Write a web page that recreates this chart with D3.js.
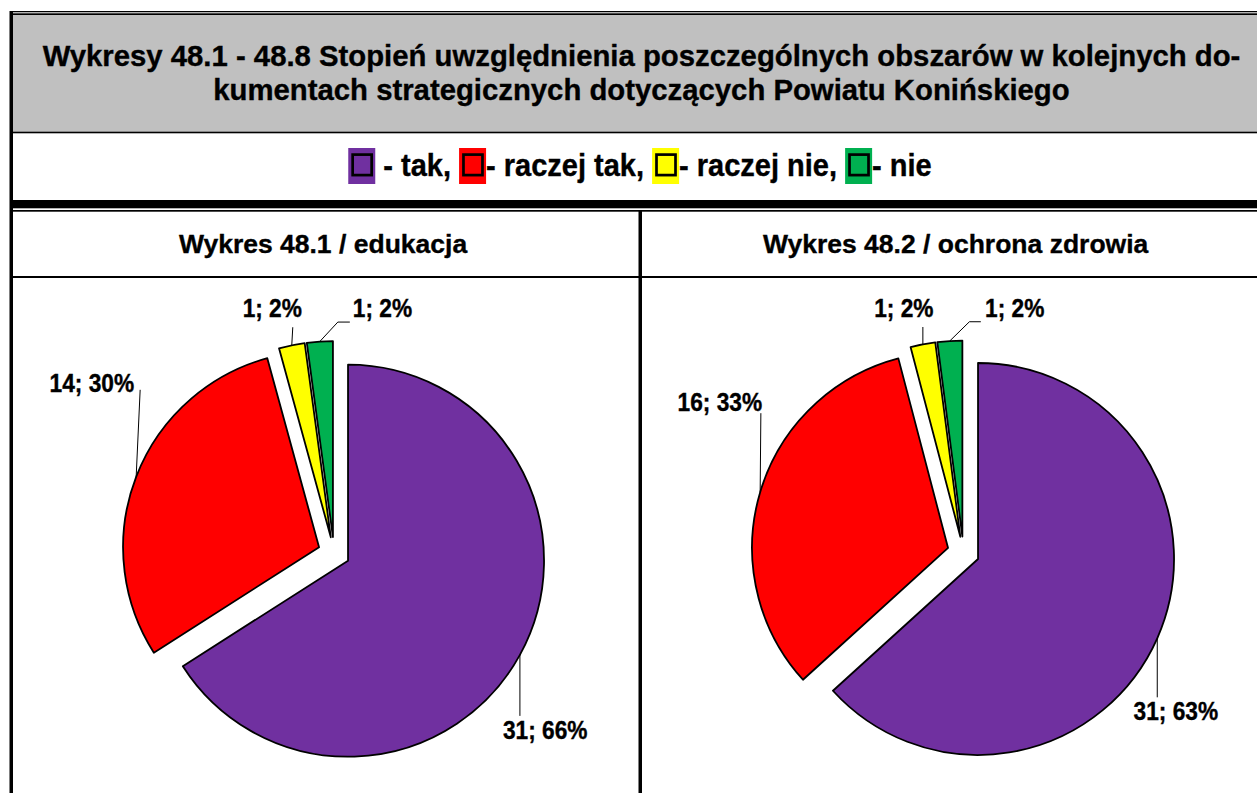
<!DOCTYPE html>
<html>
<head>
<meta charset="utf-8">
<script src="https://cdn.jsdelivr.net/npm/d3@7"></script>
<style>
  html, body { margin: 0; padding: 0; background: #fff; }
  svg { display: block; font-family: "Liberation Sans", Arial, sans-serif; font-weight: bold; }
  text { white-space: pre; fill: #000; stroke: #000; stroke-width: 0.35px; }
</style>
</head>
<body>
<svg id="chart" width="1257" height="793"></svg>
<script>
// ---- data ----
const titleLines = [
  "Wykresy 48.1 - 48.8 Stopień uwzględnienia poszczególnych obszarów w kolejnych do-",
  "kumentach strategicznych dotyczących Powiatu Konińskiego"
];
const categories = ["tak", "raczej tak", "raczej nie", "nie"];
const legendLabels = [" - tak, ", "- raczej tak, ", "- raczej nie, ", "- nie"];
const colors = ["#7030A0", "#FF0000", "#FFFF00", "#00B050"];
const chartTitles = ["Wykres 48.1 / edukacja", "Wykres 48.2 / ochrona zdrowia"];
const valuesEdukacja = [31, 14, 1, 1];
const valuesZdrowie = [31, 16, 1, 1];

// ---- layout ----
const W = 1257, H = 793;
const R = 196, EXPLODE = 16;

// label placement relative to the outer midpoint of each slice's arc
const labelLayout = [
  [ // edukacja
    { leader: [[0, 0], [0, 61]], dx: -17, dy: 84, anchor: "start" },
    { leader: [[0, 0], [4, -87]], dx: -2, dy: -85, anchor: "end" },
    { leader: [[0, 0], [1, -18]], dx: -19.5, dy: -28, anchor: "middle" },
    { leader: [[0, 0], [18, -19.4], [30, -19.4]], dx: 33, dy: -24.4, anchor: "start" }
  ],
  [ // ochrona zdrowia
    { leader: [[0, 0], [0, 59]], dx: -23.7, dy: 81.6, anchor: "start" },
    { leader: [[0, 0], [0.7, -79]], dx: 2, dy: -81, anchor: "end" },
    { leader: [[0, 0], [0, -17.4]], dx: -19, dy: -27.7, anchor: "middle" },
    { leader: [[0, 0], [19.6, -19.2], [31, -19.2]], dx: 35.3, dy: -24.2, anchor: "start" }
  ]
];

const charts = [
  { title: chartTitles[0], values: valuesEdukacja, cx: 334, cy: 553, titleX: 323, labels: labelLayout[0] },
  { title: chartTitles[1], values: valuesZdrowie, cx: 963.4, cy: 552.5, titleX: 955.6, labels: labelLayout[1] }
];

const svg = d3.select("#chart");

// text placed at a baseline point, slightly stretched vertically
function tallText(parent, x, y, str, size, anchor, sy) {
  return parent.append("text")
    .attr("transform", `translate(${x},${y}) scale(1,${sy})`)
    .attr("text-anchor", anchor)
    .attr("font-size", size)
    .text(str);
}

// ---- table frame ----
const frame = svg.append("g");
frame.append("rect").attr("x", 13).attr("y", 15).attr("width", W - 13).attr("height", 117).attr("fill", "#C0C0C0");
frame.append("rect").attr("x", 10).attr("y", 11).attr("width", W - 10).attr("height", 1.3).attr("fill", "#000");
frame.append("rect").attr("x", 10).attr("y", 13.3).attr("width", W - 10).attr("height", 1.7).attr("fill", "#000");
frame.append("rect").attr("x", 10).attr("y", 131.7).attr("width", W - 10).attr("height", 1.6).attr("fill", "#000");
frame.append("rect").attr("x", 10).attr("y", 200).attr("width", W - 10).attr("height", 8.3).attr("fill", "#000");
frame.append("rect").attr("x", 10).attr("y", 210).attr("width", W - 10).attr("height", 1.7).attr("fill", "#000");
frame.append("rect").attr("x", 10).attr("y", 276).attr("width", W - 10).attr("height", 2).attr("fill", "#000");
frame.append("rect").attr("x", 9.5).attr("y", 11).attr("width", 3.5).attr("height", H - 11).attr("fill", "#000");
frame.append("rect").attr("x", 638.5).attr("y", 210).attr("width", 3.5).attr("height", H - 210).attr("fill", "#000");

// ---- main title ----
const titleG = svg.append("g");
titleLines.forEach((t, i) => tallText(titleG, 641.5, 66 + i * 34, t, 29.3, "middle", 1.0));

// ---- legend ----
const legendFont = 29;
const boxW = 27, boxH = 36, legendTop = 148, legendBaseline = 176;
const legend = svg.append("g");
const widths = legendLabels.map(t => {
  const tmp = legend.append("text").attr("font-size", legendFont).text(t);
  const w = tmp.node().getComputedTextLength();
  tmp.remove();
  return w;
});
const totalW = widths.reduce((s, w) => s + w + boxW, 0);
let lx = 640 - totalW / 2;
categories.forEach((c, i) => {
  legend.append("rect").attr("x", lx).attr("y", legendTop).attr("width", boxW).attr("height", boxH).attr("fill", colors[i]);
  legend.append("rect").attr("x", lx + 4.4).attr("y", legendTop + 6.6).attr("width", 19).attr("height", 20.5)
    .attr("fill", "none").attr("stroke", "#000").attr("stroke-width", 2.7);
  lx += boxW;
  tallText(legend, lx, legendBaseline, legendLabels[i], legendFont, "start", 1.06);
  lx += widths[i];
});

// ---- pies ----
const pie = d3.pie().sort(null).value(d => d);
const arc = d3.arc().innerRadius(0).outerRadius(R);

charts.forEach(ch => {
  tallText(svg, ch.titleX, 253, ch.title, 26.5, "middle", 1.0);

  const total = d3.sum(ch.values);
  const g = svg.append("g").attr("transform", `translate(${ch.cx},${ch.cy})`);
  pie(ch.values).forEach((a, i) => {
    const mid = (a.startAngle + a.endAngle) / 2;
    const ox = EXPLODE * Math.sin(mid), oy = -EXPLODE * Math.cos(mid);
    g.append("path").attr("d", arc(a)).attr("transform", `translate(${ox},${oy})`)
      .attr("fill", colors[i]).attr("stroke", "#000").attr("stroke-width", 1.8).attr("stroke-linejoin", "round");

    const px = ox + R * Math.sin(mid), py = oy - R * Math.cos(mid);
    const lab = ch.labels[i];
    g.append("path")
      .attr("d", d3.line()(lab.leader.map(p => [px + p[0], py + p[1]])))
      .attr("fill", "none").attr("stroke", "#000").attr("stroke-width", 1);
    tallText(g, px + lab.dx, py + lab.dy, `${a.data}; ${Math.round(a.data / total * 100)}%`, 22.7, lab.anchor, 1.1);
  });
});
</script>
</body>
</html>
